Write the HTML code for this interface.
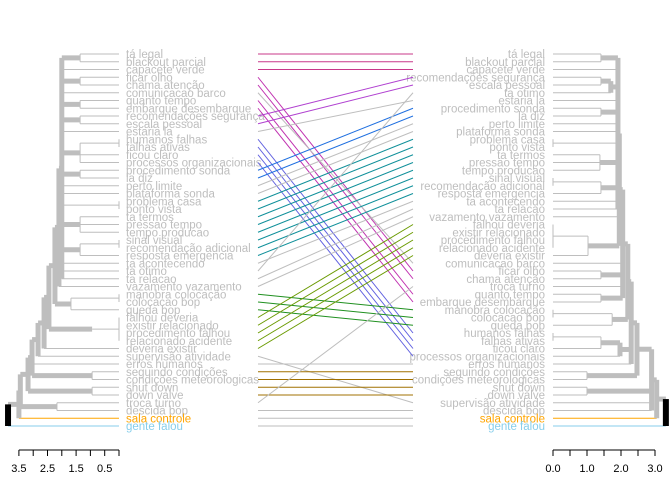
<!DOCTYPE html>
<html><head><meta charset="utf-8"><style>
body{margin:0;background:#fff}
svg{display:block;font-family:"Liberation Sans",sans-serif}
</style></head><body>
<svg id="c" width="672" height="480"></svg>
<script>
const leftLabels=["tá legal","blackout parcial","capacete verde","ficar olho","chama atenção","comunicacao barco","quanto tempo","embarque desembarque","recomendações segurança","escala pessoal","estaria la","humanos falhas","falhas ativas","ficou claro","processos organizacionais","procedimento sonda","la diz","perto limite","plataforma sonda","problema casa","ponto vista","ta termos","pressao tempo","tempo producao","sinal visual","recomendação adicional","resposta emergencia","ta acontecendo","ta otimo","ta relacao","vazamento vazamento","manobra colocação","colocacao bop","queda bop","falhou deveria","existir relacionado","procedimento falhou","relacionado acidente","deveria existir","supervisão atividade","erros humanos","seguindo condições","condições meteorologicas","shut down","down valve","troca turno","descida bop","sala controle","gente falou"];
const rightLabels=["tá legal","blackout parcial","capacete verde","recomendações segurança","escala pessoal","ta otimo","estaria la","procedimento sonda","la diz","perto limite","plataforma sonda","problema casa","ponto vista","ta termos","pressao tempo","tempo producao","sinal visual","recomendação adicional","resposta emergencia","ta acontecendo","ta relacao","vazamento vazamento","falhou deveria","existir relacionado","procedimento falhou","relacionado acidente","deveria existir","comunicacao barco","ficar olho","chama atenção","troca turno","quanto tempo","embarque desembarque","manobra colocação","colocacao bop","queda bop","humanos falhas","falhas ativas","ficou claro","processos organizacionais","erros humanos","seguindo condições","condições meteorologicas","shut down","down valve","supervisão atividade","descida bop","sala controle","gente falou"];
const CR="#c8388a",MG="#c030b0",PU="#b040d0",SB="#6060e0",BL="#2070e0",TE="#10909a",GR="#209020",OL="#6a9a00",BR="#a07000",GY="#bebebe";
const lineColors=[CR,CR,CR,MG,MG,GY,MG,MG,PU,PU,GY,SB,SB,SB,SB,BL,BL,GY,GY,TE,TE,TE,TE,TE,TE,TE,TE,GY,GY,GY,GY,GR,GR,GR,OL,OL,OL,OL,OL,GY,GY,BR,BR,BR,BR,GY,GY,GY,GY];
const labelColors=leftLabels.map((l,i)=>i==47?"#ffa500":i==48?"#87ceeb":GY);
function n(h,c){return {h:h,c:c};}
const A=n(2.0,[n(1.36,[1,2]),3,n(1.36,[4,5]),6,n(1.36,[7,8]),n(1.36,[9,10]),11,n(1.36,[n(0,[12,13]),14,15]),n(1.36,[16,17]),18,19,n(0,[20,21]),n(1.36,[22,23,24]),n(1.36,[n(0,[25,26]),27]),28,29,30]);
const L2=n(2.24,[n(2.1,[A,31]),n(1.68,[n(0,[32,33]),34])]);
const L3=n(2.45,[L2,n(0.94,[n(0,[35,36,37,38])])]);
const L4=n(3.18,[n(3.04,[n(2.83,[n(2.62,[L3,39]),40]),41,n(0.94,[42,43])]),n(0.94,[44,45])]);
const leftTree=n(3.88,[n(3.5,[n(3.45,[L4,n(2.17,[46,47])]),48]),49]);
const R1=n(1.91,[n(1.41,[1,2]),3,n(1.7,[n(1.41,[4,5]),6]),7,n(1.41,[8,9]),10,11,n(0,[12,13]),n(1.38,[14,15,16]),n(1.41,[n(0,[17,18]),19]),20,21]);
const R2=n(1.95,[R1,22,n(1.03,[n(0,[23,24,25,26]),27])]);
const R3=n(2.05,[R2,28,n(1.41,[29,30]),31,n(1.41,[32,33])]);
const R4=n(2.2,[R3,n(1.74,[n(0,[34,35]),36])]);
const R5=n(2.3,[R4,n(1.97,[n(1.41,[n(0,[37,38]),39]),40]),41]);
const R6=n(2.47,[R5,n(1.0,[42,43])]);
const R7=n(2.9,[R6,n(1.0,[44,45]),46,47]);
const rightTree=n(3.32,[n(3.05,[R7,48]),49]);
const leftTicks=[3.5,3,2.5,2,1.5,1,0.5,0],leftTickLabels=["3.5","2.5","1.5","0.5"];
const rightTicks=[0,0.5,1,1.5,2,2.5,3],rightTickLabels=["0.0","1.0","2.0","3.0"];

const svg=document.getElementById('c');const NS="http://www.w3.org/2000/svg";
function el(t,a,p){const e=document.createElementNS(NS,t);for(const k in a)e.setAttribute(k,a[k]);(p||svg).appendChild(e);return e;}
const y0=54,dy=(426-54)/48;
const yOf=i=>y0+i*dy;
const lx=h=>119-h*28.6, rx=h=>553+h*34;
function draw(tree,xf,g){
  function pos(node){
    if(typeof node==="number")return {y:yOf(node-1),x:xf(0),leaf:node-1};
    const ch=node.c.map(pos);const x=xf(node.h);
    const y=(ch[0].y+ch[ch.length-1].y)/2;
    const isRoot=node===tree;
    const col=isRoot?"#000":GY;
    const anyInt=ch.some(c=>c.leaf===undefined&&c.h>0);
    ch.forEach(c=>{
      const leaf=c.leaf!==undefined;
      const cc=leaf?labelColors[c.leaf]:col;
      const cw=leaf?1:(c.h>0?5:1);
      const ln=el('line',{x1:x,y1:c.y,x2:c.x,y2:c.y,stroke:leaf?cc:GY,'stroke-width':cw},g);
      
      
    });
    const vw=isRoot?6:(anyInt&&node.h>0?5:1);
    const v=el('line',{x1:x,y1:ch[0].y,x2:x,y2:ch[ch.length-1].y,stroke:col,'stroke-width':vw},g);
    
    
    return {x:x,y:y,h:node.h};
  }
  pos(tree);
}
const gl=el('g',{});
const gr=el('g',{});
draw(leftTree,lx,gl);draw(rightTree,rx,gr);
leftLabels.forEach((t,i)=>{const e=el('text',{x:126,y:yOf(i)+4,'font-size':'11.5',fill:labelColors[i]});e.textContent=t;
});
rightLabels.forEach((t,i)=>{const c=t=="sala controle"?"#ffa500":t=="gente falou"?"#87ceeb":GY;const e=el('text',{x:545,y:yOf(i)+4,'font-size':'11.5',fill:c,'text-anchor':'end'});e.textContent=t;
});
leftLabels.forEach((t,i)=>{const j=rightLabels.indexOf(t);const e=el('line',{x1:258,y1:yOf(i),x2:413,y2:yOf(j),stroke:lineColors[i],'stroke-width':1});
});
function axis(ticks,labs,xf,name){const g=el('g',{});
 el('line',{x1:xf(ticks[0]),y1:450,x2:xf(ticks[ticks.length-1]),y2:450,stroke:'#000'},g);
 ticks.forEach(v=>el('line',{x1:xf(v),y1:450,x2:xf(v),y2:456,stroke:'#000'},g));
 labs.forEach(s=>{const e=el('text',{x:xf(+s),y:472,'font-size':'11','text-anchor':'middle',fill:'#000'},g);e.textContent=s;});}
axis(leftTicks,leftTickLabels,lx,'left-height-axis');
axis(rightTicks,rightTickLabels,rx,'right-height-axis');
</script>
</body></html>
